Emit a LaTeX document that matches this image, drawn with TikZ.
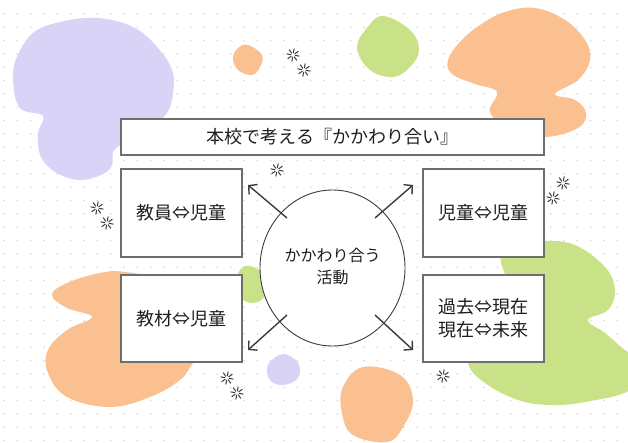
\documentclass[tikz,border=0pt]{standalone}
\usepackage{fontspec}
\setmainfont{Noto Sans CJK JP}
\usetikzlibrary{arrows.meta,calc,shapes.geometric}
\definecolor{lav}{RGB}{217,211,248}
\definecolor{org}{RGB}{251,192,143}
\definecolor{grn}{RGB}{201,226,136}
\definecolor{dotc}{RGB}{214,214,214}
\definecolor{boxline}{RGB}{110,110,110}
\definecolor{ink}{RGB}{60,60,60}
\definecolor{txt}{RGB}{30,30,30}
\tikzset{
  blob/.style={smooth cycle, tension=0.65},
  card/.style={draw=boxline, line width=1.2pt, fill=white, inner sep=0pt, outer sep=0pt,
    text=txt, font=\fontsize{18}{23}\selectfont, align=center},
  actshape/.style={ellipse, draw=ink, line width=0.9pt, fill=white, inner sep=0pt, outer sep=0pt,
    minimum width=145pt, minimum height=156pt, text=txt, font=\fontsize{16}{22}\selectfont, align=center},
  arr/.style={draw=ink, line width=1.4pt, -{Straight Barb[length=6pt,width=13pt]}},
  sparkle/.pic={\foreach \a in {10,55,...,325} \draw[ink, line width=1pt, line cap=round] (\a:2.2) -- (\a:6.3);}
}
\begin{document}
\begin{tikzpicture}[x=1pt,y=-1pt]
\useasboundingbox (0,0) rectangle (628,443);
\fill[white] (0,0) rectangle (628,443);
\begin{scope}
\clip (0,0) rectangle (628,443);
% dot grid
\foreach \i in {0,...,46} \foreach \j in {0,...,32}
  \fill[dotc] ({4+\i*13.333},{14+\j*13.333}) circle (0.9);
% blobs
\fill[lav] plot[blob] coordinates {(97,18) (133,27) (157,47) (172,70) (173,93) (167,113) (150,128) (128,142) (114,150) (112,165) (103,174) (80,180) (57,173) (41,157) (38,133) (43,116) (20,108) (13,80) (17,57) (33,33) (60,22)};
\fill[org] plot[blob] coordinates {(535,8) (565,20) (585,40) (590,60) (578,80) (555,94) (575,100) (586,113) (578,128) (545,137) (510,130) (490,112) (497,92) (475,84) (452,74) (448,60) (460,42) (480,25) (505,12)};
\fill[grn] plot[blob] coordinates {(383,16) (410,30) (419,50) (410,67) (393,77) (370,70) (357,48) (367,28)};
\fill[org] plot[blob] coordinates {(248,45) (262,55) (260,67) (252,75) (238,70) (233,58) (238,48)};
\fill[org] plot[blob] coordinates {(52,295) (67,283) (100,273) (125,272) (170,282) (215,310) (205,350) (193,363) (180,380) (150,397) (110,407) (67,397) (48,373) (48,350) (67,330) (92,317) (67,308)};
\fill[grn] plot[blob] coordinates {(250,266) (265,275) (268,290) (258,302) (243,300) (236,285) (240,270)};
\fill[grn] plot[blob] coordinates {(545,241) (575,245) (605,267) (615,290) (608,310) (588,320) (605,333) (621,347) (640,365) (630,390) (585,402) (551,405) (518,400) (485,383) (468,363) (470,330) (505,290) (501,257) (520,245)};
\fill[lav] plot[blob] coordinates {(283,354) (298,363) (298,378) (283,385) (270,380) (268,365)};
\fill[org] plot[blob] coordinates {(363,367) (400,375) (413,400) (403,427) (387,442) (353,435) (342,413) (343,387)};
\end{scope}
% sparkles
\foreach \p in {(293,55),(304,70),(277,170),(97,208),(107,223),(563,183),(553,198),(227,378),(237,393),(443,376)}
  \pic at \p {sparkle};
% boxes
\node[card, minimum width=423pt, minimum height=36pt] (title) at (332.5,137) {本校で考える『かかわり合い』};
\node[card, minimum width=121pt, minimum height=88pt] (tc) at (181.5,213) {教員⇔児童};
\node[card, minimum width=121pt, minimum height=88pt] (cc) at (483.5,213) {児童⇔児童};
\node[card, minimum width=121pt, minimum height=87pt] (mc) at (181.5,318.5) {教材⇔児童};
\node[card, minimum width=121pt, minimum height=87pt] (pf) at (483.5,318.5) {過去⇔現在\\現在⇔未来};
\node[actshape] (act) at (332.5,268) {\raisebox{4pt}{\begin{tabular}{@{}c@{}}かかわり合う\\活動\end{tabular}}};
% arrows
\coordinate (nwS) at ($(act.center)+(-45.5,-50)$);
\coordinate (nwE) at ($(act.center)+(-84.5,-83)$);
\coordinate (neS) at ($(act.center)+(42.5,-50)$);
\coordinate (neE) at ($(act.center)+(80.5,-83)$);
\coordinate (swS) at ($(act.center)+(-45.5,47)$);
\coordinate (swE) at ($(act.center)+(-84.5,82)$);
\coordinate (seS) at ($(act.center)+(42.5,47)$);
\coordinate (seE) at ($(act.center)+(80.5,82)$);
\draw[arr] (nwS) -- (nwE);
\draw[arr] (neS) -- (neE);
\draw[arr] (swS) -- (swE);
\draw[arr] (seS) -- (seE);
\end{tikzpicture}
\end{document}
